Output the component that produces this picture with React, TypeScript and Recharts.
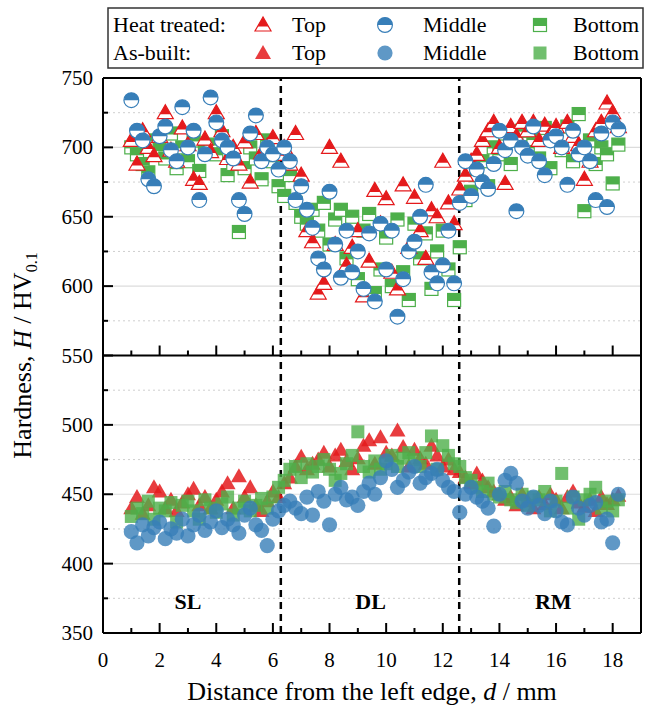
import { ScatterChart, Scatter, XAxis, YAxis, ReferenceLine, ReferenceDot, CartesianGrid, Label } from "recharts";

// distance from the left edge (mm)
const DIST = [
  1, 1.2, 1.4, 1.6, 1.8, 2, 2.2, 2.4, 2.6, 2.8, 3, 3.2, 3.4, 3.6, 3.8, 4, 4.2, 4.4, 4.6, 4.8,
  5, 5.2, 5.4, 5.6, 5.8, 6, 6.2, 6.4, 6.6, 6.8, 7, 7.2, 7.4, 7.6, 7.8, 8, 8.2, 8.4, 8.6, 8.8,
  9, 9.2, 9.4, 9.6, 9.8, 10, 10.2, 10.4, 10.6, 10.8, 11, 11.2, 11.4, 11.6, 11.8, 12, 12.2, 12.4, 12.6, 12.8,
  13, 13.2, 13.4, 13.6, 13.8, 14, 14.2, 14.4, 14.6, 14.8, 15, 15.2, 15.4, 15.6, 15.8, 16, 16.2, 16.4, 16.6, 16.8,
  17, 17.2, 17.4, 17.6, 17.8, 18, 18.2,
];

// heat treated (HV0.1)
const HT_TOP = [
  705, 688, 712, 700, 694, 708, 725, 698, 690, 714, 702, 677, 674, 706, 697, 725, 712, 692, 700, 688,
  704, 675, 710, 696, 701, 707, 695, 700, 688, 710, 680, 640, 632, 595, 602, 700, 630, 690, 615, 628,
  640, 593, 618, 669, 645, 663, 610, 598, 673, 628, 664, 640, 620, 655, 650, 690, 660, 645, 670, 680,
  690, 695, 705, 712, 718, 700, 674, 715, 708, 718, 712, 718, 705, 716, 710, 715, 700, 718, 708, 702,
  677, 690, 712, 718, 732, 725, 715,
];
const HT_MID = [
  734, 712, 705, 677, 672, 708, 715, 698, 690, 729, 700, 712, 662, 695, 736, 718, 705, 700, 692, 662,
  652, 710, 723, 690, 700, 695, 684, 700, 690, 662, 672, 655, 642, 620, 612, 668, 630, 606, 640, 610,
  625, 598, 638, 589, 645, 612, 640, 578, 605, 625, 632, 650, 673, 610, 602, 615, 640, 602, 660, 690,
  665, 684, 675, 670, 688, 712, 698, 705, 654, 700, 694, 715, 690, 680, 705, 708, 700, 673, 712, 695,
  700, 690, 662, 710, 657, 718, 713,
];
const HT_BOT = [
  700, 695, 688, 682, 705, 698, 692, 710, 685, 700, 690, 705, 683, 698, 702, 695, 708, 680, 688, 639,
  685, 700, 692, 677, 705, 690, 672, 665, 680, 660, 650, 645, 655, 640, 660, 630, 648, 655, 620, 650,
  605, 640, 652, 595, 612, 635, 600, 648, 610, 590, 645, 620, 638, 598, 625, 640, 612, 590, 628, 662,
  668, 680, 690, 672, 700, 695, 710, 688, 705, 712, 700, 706, 692, 714, 685, 710, 698, 715, 690, 724,
  654, 705, 688, 700, 695, 674, 702,
];

// as-built (HV0.1)
const AB_TOP = [
  440, 448, 436, 442, 455, 452, 440, 446, 438, 444, 450, 454, 442, 448, 440, 446, 452, 458, 440, 463,
  448, 455, 442, 438, 445, 452, 448, 458, 462, 470, 477, 468, 472, 475, 480, 470, 478, 482, 474, 468,
  476, 485, 489, 472, 491, 480, 478, 496, 484, 470, 482, 476, 472, 485, 478, 470, 475, 468, 466, 462,
  458, 465, 460, 455, 452, 450, 446, 448, 442, 450, 445, 440, 448, 443, 450, 446, 440, 448, 452, 444,
  441, 446, 438, 448, 443, 446, 449,
];
const AB_MID = [
  423, 415, 428, 420, 426, 430, 418, 425, 422, 432, 420, 428, 435, 424, 430, 438, 426, 432, 428, 422,
  435, 440, 428, 424, 413, 432, 438, 442, 445, 440, 436, 448, 435, 452, 445, 428, 450, 455, 446, 448,
  442, 452, 458, 450, 462, 474, 468, 455, 460, 466, 470, 458, 462, 465, 468, 460, 455, 452, 437, 450,
  455, 448, 445, 440, 427, 450, 460, 465, 458, 445, 440, 448, 442, 436, 445, 438, 430, 428, 448, 440,
  435, 442, 444, 430, 432, 415, 450,
];
const AB_BOT = [
  434, 440, 436, 445, 432, 440, 438, 444, 430, 442, 445, 438, 432, 446, 440, 437, 443, 448, 435, 440,
  445, 438, 442, 447, 440, 448, 455, 460, 468, 470, 462, 472, 466, 470, 475, 468, 460, 465, 472, 478,
  495, 470, 466, 474, 468, 472, 478, 470, 476, 480, 475, 470, 480, 492, 468, 485, 478, 472, 470, 462,
  460, 455, 452, 458, 450, 448, 452, 446, 444, 450, 442, 448, 446, 452, 438, 445, 465, 440, 448, 432,
  446, 450, 455, 440, 445, 438, 446,
];

const X_TICKS = [0, 1, 2, 3, 4, 5, 6, 7, 8, 9, 10, 11, 12, 13, 14, 15, 16, 17, 18, 19];
const Y_TICKS = [350, 375, 400, 425, 450, 475, 500, 525, 550, 575, 600, 625, 650, 675, 700, 725, 750];
const GRID_MAJOR = [400, 450, 500, 600, 650, 700];
const GRID_MINOR = [375, 425, 475, 525, 575, 625, 675, 725];
const ZONE_BOUNDS = [6.28, 12.58];
const ZONES = [
  { name: "SL", d: 3.0 },
  { name: "DL", d: 9.45 },
  { name: "RM", d: 15.9 },
];
const ZONE_LABEL_H = 372.5;
const PANEL_SPLIT = 550;

const RED = "#e41a1c";
const BLUE = "#377eb8";
const GREEN = "#4daf4a";
const FONT = "'Liberation Serif', 'Times New Roman', serif";

const pts = (ys: number[]) => DIST.map((d, i) => ({ d, h: ys[i] }));

const HalfTri = ({ cx, cy }: any) => (
  <g>
    <polygon points={`${cx},${cy - 8} ${cx - 8},${cy + 6} ${cx + 8},${cy + 6}`} fill="#fff" stroke={RED} strokeWidth={1.2} />
    <polygon points={`${cx},${cy - 8} ${cx - 5.4},${cy + 1.5} ${cx + 5.4},${cy + 1.5}`} fill={RED} />
  </g>
);
const HalfCircle = ({ cx, cy }: any) => (
  <g>
    <circle cx={cx} cy={cy} r={7.4} fill="#fff" stroke={BLUE} strokeWidth={1.2} />
    <path d={`M${cx - 7.4},${cy} A7.4,7.4 0 0 1 ${cx + 7.4},${cy} Z`} fill={BLUE} />
  </g>
);
const HalfSquare = ({ cx, cy }: any) => (
  <g>
    <rect x={cx - 6.5} y={cy - 6.5} width={13} height={13} fill="#fff" stroke={GREEN} strokeWidth={1.2} />
    <rect x={cx - 6.5} y={cy - 6.5} width={13} height={7.5} fill={GREEN} />
  </g>
);
const FullTri = ({ cx, cy }: any) => (
  <polygon points={`${cx},${cy - 8} ${cx - 8},${cy + 6} ${cx + 8},${cy + 6}`} fill={RED} fillOpacity={0.85} />
);
const FullCircle = ({ cx, cy }: any) => <circle cx={cx} cy={cy} r={7.6} fill={BLUE} fillOpacity={0.8} />;
const FullSquare = ({ cx, cy }: any) => (
  <rect x={cx - 6.5} y={cy - 6.5} width={13} height={13} fill={GREEN} fillOpacity={0.8} />
);

const XTickBottom = ({ x, y, payload }: any) => {
  const v = payload.value;
  const major = v % 2 === 0;
  return (
    <g>
      {v > 0 && v < 19 && <line x1={x} x2={x} y1={y} y2={y - (major ? 10 : 5)} stroke="#000" strokeWidth={2} />}
      {major && (
        <text x={x} y={y + 34} textAnchor="middle" fontSize={21} fontFamily={FONT} fill="#000">
          {v}
        </text>
      )}
    </g>
  );
};
const XTickTop = ({ x, y, payload }: any) => {
  const v = payload.value;
  if (v <= 0 || v >= 19) return <g />;
  return <line x1={x} x2={x} y1={y} y2={y + (v % 2 === 0 ? 10 : 5)} stroke="#000" strokeWidth={2} />;
};
const YTickLeft = ({ x, y, payload }: any) => {
  const v = payload.value;
  const major = v % 50 === 0;
  return (
    <g>
      {v > 350 && v < 750 && <line x1={x} x2={x + (major ? 10 : 5)} y1={y} y2={y} stroke="#000" strokeWidth={2} />}
      {major && (
        <text x={x - 10} y={y + 7} textAnchor="end" fontSize={21} fontFamily={FONT} fill="#000">
          {v}
        </text>
      )}
    </g>
  );
};
const YTickRight = ({ x, y, payload }: any) => {
  const v = payload.value;
  if (v <= 350 || v >= 750) return <g />;
  return <line x1={x} x2={x - (v % 50 === 0 ? 10 : 5)} y1={y} y2={y} stroke="#000" strokeWidth={2} />;
};

const YTitle = ({ viewBox }: any) => {
  const cx = viewBox.x + 31;
  const cy = viewBox.y + viewBox.height / 2;
  return (
    <text transform={`translate(${cx},${cy}) rotate(-90)`} textAnchor="middle" fontSize={26} fontFamily={FONT} fill="#000">
      Hardness, <tspan fontStyle="italic">H</tspan> / HV
      <tspan fontSize={16} dy={6}>0.1</tspan>
    </text>
  );
};
const XTitle = ({ viewBox }: any) => (
  <text x={viewBox.x + viewBox.width / 2} y={viewBox.y + 67} textAnchor="middle" fontSize={26} fontFamily={FONT} fill="#000">
    Distance from the left edge, <tspan fontStyle="italic">d</tspan> / mm
  </text>
);

const ZoneText = (name: string) => ({ cx, cy }: any) => (
  <text x={cx} y={cy + 7} textAnchor="middle" fontSize={22} fontWeight="bold" fontFamily={FONT} fill="#000">
    {name}
  </text>
);

const LEGEND_ROWS = [
  { title: "Heat treated:", shapes: [HalfTri, HalfCircle, HalfSquare] },
  { title: "As-built:", shapes: [FullTri, FullCircle, FullSquare] },
];
const LEGEND_NAMES = ["Top", "Middle", "Bottom"];
const LEGEND_ICON_X = [263, 385, 540];
const LEGEND_TEXT_X = [292, 423, 573];

const LegendBox = () => (
  <svg width={660} height={72} style={{ position: "absolute", left: 0, top: 0 }}>
    <rect x={108} y={8} width={535} height={60} fill="#fff" stroke="#333" strokeWidth={1.5} />
    {LEGEND_ROWS.map((row, r) => {
      const cy = 25 + r * 28;
      return (
        <g key={row.title}>
          <text x={113} y={cy + 7} fontSize={22} fontFamily={FONT} fill="#000">
            {row.title}
          </text>
          {row.shapes.map((S, i) => (
            <g key={i}>
              <S cx={LEGEND_ICON_X[i]} cy={cy} />
              <text x={LEGEND_TEXT_X[i]} y={cy + 7} fontSize={22} fontFamily={FONT} fill="#000">
                {LEGEND_NAMES[i]}
              </text>
            </g>
          ))}
        </g>
      );
    })}
  </svg>
);

export default function App() {
  return (
    <div style={{ position: "absolute", left: 0, top: 0, width: 660, height: 711, background: "#fff" }}>
      <ScatterChart width={660} height={711} margin={{ top: 77, right: 18, bottom: 0, left: 0 }}>
        <CartesianGrid vertical={false} horizontalValues={GRID_MAJOR} stroke="#dcdcdc" strokeWidth={1.2} />
        <CartesianGrid vertical={false} horizontalValues={GRID_MINOR} stroke="#cfcfcf" strokeDasharray="2 3" />
        <XAxis
          dataKey="d"
          type="number"
          domain={[0, 19]}
          ticks={X_TICKS}
          interval={0}
          height={78}
          tickSize={0}
          tickMargin={0}
          tick={XTickBottom}
          axisLine={{ stroke: "#000", strokeWidth: 2 }}
          tickLine={false}
        >
          <Label content={XTitle} />
        </XAxis>
        <XAxis
          xAxisId="top"
          orientation="top"
          dataKey="d"
          type="number"
          domain={[0, 19]}
          ticks={X_TICKS}
          interval={0}
          height={1}
          tickSize={0}
          tickMargin={0}
          tick={XTickTop}
          axisLine={{ stroke: "#000", strokeWidth: 2 }}
          tickLine={false}
        />
        <YAxis
          dataKey="h"
          type="number"
          domain={[350, 750]}
          ticks={Y_TICKS}
          interval={0}
          width={103}
          tickSize={0}
          tickMargin={0}
          tick={YTickLeft}
          axisLine={{ stroke: "#000", strokeWidth: 2 }}
          tickLine={false}
        >
          <Label content={YTitle} />
        </YAxis>
        <YAxis
          yAxisId="right"
          orientation="right"
          dataKey="h"
          type="number"
          domain={[350, 750]}
          ticks={Y_TICKS}
          interval={0}
          width={1}
          tickSize={0}
          tickMargin={0}
          tick={YTickRight}
          axisLine={{ stroke: "#000", strokeWidth: 2 }}
          tickLine={false}
        />

        <Scatter data={pts(HT_BOT)} shape={HalfSquare} isAnimationActive={false} />
        <Scatter data={pts(HT_TOP)} shape={HalfTri} isAnimationActive={false} />
        <Scatter data={pts(HT_MID)} shape={HalfCircle} isAnimationActive={false} />
        <Scatter data={pts(AB_TOP)} shape={FullTri} isAnimationActive={false} />
        <Scatter data={pts(AB_BOT)} shape={FullSquare} isAnimationActive={false} />
        <Scatter data={pts(AB_MID)} shape={FullCircle} isAnimationActive={false} />

        <ReferenceLine y={PANEL_SPLIT} stroke="#000" strokeWidth={2} />
        {X_TICKS.filter((t) => t > 0 && t < 19).map((t) => (
          <ReferenceLine
            key={t}
            segment={[
              { x: t, y: PANEL_SPLIT },
              { x: t, y: PANEL_SPLIT + (t % 2 === 0 ? 7.2 : 3.6) },
            ]}
            stroke="#000"
            strokeWidth={2}
          />
        ))}
        {ZONE_BOUNDS.map((b) => (
          <ReferenceLine key={b} x={b} stroke="#000" strokeWidth={2.5} strokeDasharray="7 5" />
        ))}
        {ZONES.map((z) => (
          <ReferenceDot key={z.name} x={z.d} y={ZONE_LABEL_H} r={0} shape={ZoneText(z.name)} />
        ))}
      </ScatterChart>
      <LegendBox />
    </div>
  );
}
